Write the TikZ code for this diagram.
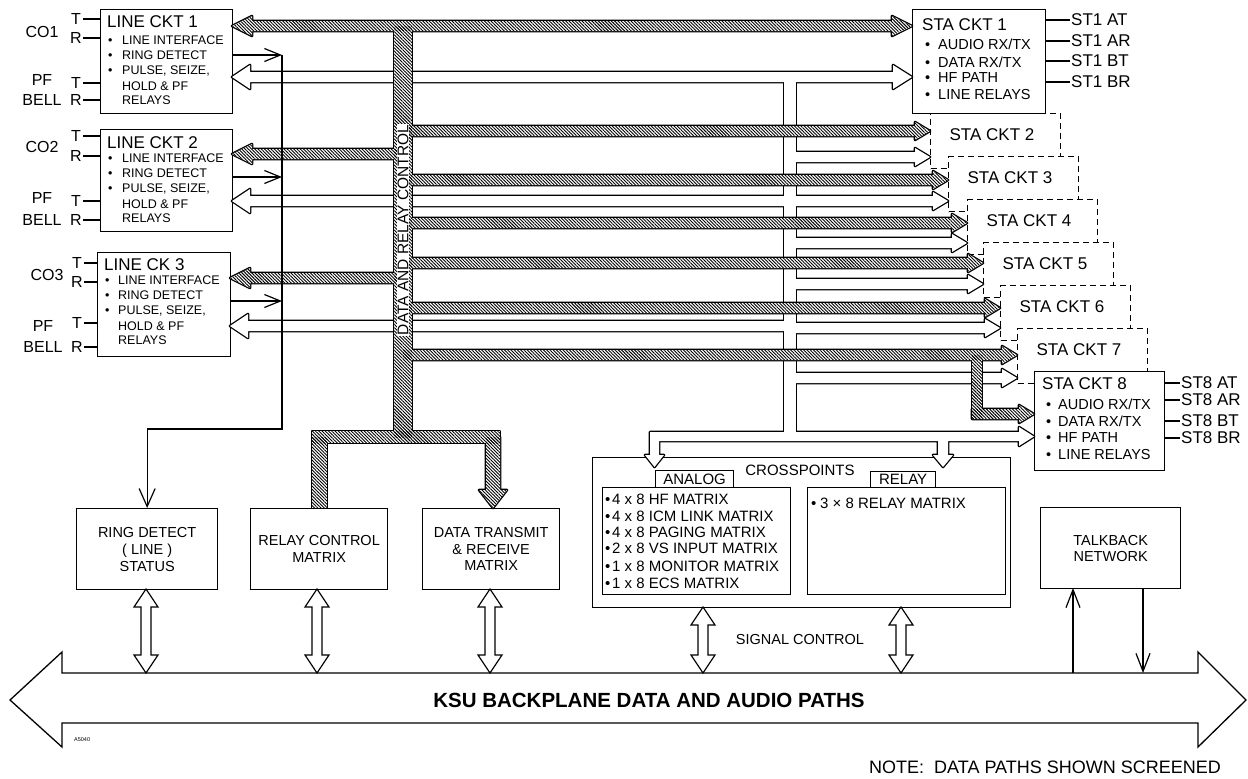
\documentclass[tikz,border=0pt]{standalone}
\usepackage{fontspec}
\setmainfont{Liberation Sans}
\usetikzlibrary{arrows.meta,patterns.meta}

\newcommand{\dotb}[1]{\makebox[#1][l]{\textbullet}}

% hollow (audio) paths, drawn twice: outline pass, then white pass
\newcommand{\hollownet}[1]{%
  \path[#1] (250,72) -- (893,72) -- (893,65) -- (912,77) -- (893,89) -- (893,82) -- (250,82) -- (250,89) -- (232,77) -- (250,65) -- cycle;
  \path[#1] (784,77) rectangle (796,437);
  \path[#1] (250,196) -- (790,196) -- (790,206) -- (250,206) -- (250,213) -- (232,201) -- (250,189) -- cycle;
  \path[#1] (248,321) -- (790,321) -- (790,331) -- (248,331) -- (248,338) -- (230,326) -- (248,314) -- cycle;
  \foreach \yy/\xt in {157/930,201/948,243/967,284/983,328/1000,378/1017}
    \path[#1] (790,\yy-5) -- (\xt-15,\yy-5) -- (\xt-15,\yy-9) -- (\xt,\yy) -- (\xt-15,\yy+9) -- (\xt-15,\yy+5) -- (790,\yy+5) -- cycle;
  \path[#1] (650,432) -- (1019,432) -- (1019,427) -- (1034,436.5) -- (1019,446) -- (1019,441) -- (948,441) -- (948,455) -- (953,455) -- (943,467) -- (933,455) -- (938,455) -- (938,441) -- (659,441) -- (659,455) -- (664,455) -- (654.5,467) -- (645,455) -- (650,455) -- cycle;
}

% screened (data) paths: outline pass, white pass, hatch pass
\newcommand{\hatchnet}[1]{%
  \path[#1] (252,21) -- (892,21) -- (892,16) -- (912,26) -- (892,36) -- (892,31) -- (252,31) -- (252,36) -- (232,26) -- (252,16) -- cycle;
  \path[#1] (394,26) rectangle (412,437);
  \path[#1] (403,149) -- (252,149) -- (252,144) -- (232,154) -- (252,164) -- (252,159) -- (403,159) -- cycle;
  \path[#1] (403,273) -- (250,273) -- (250,268) -- (230,278) -- (250,288) -- (250,283) -- (403,283) -- cycle;
  \foreach \yy/\xt in {131/930,180/948,223/967,263/983,308/1000,355/1017}
    \path[#1] (403,\yy-5) -- (\xt-15,\yy-5) -- (\xt-15,\yy-9) -- (\xt,\yy) -- (\xt-15,\yy+9) -- (\xt-15,\yy+5) -- (403,\yy+5) -- cycle;
  \path[#1] (972,355) rectangle (982,419);
  \path[#1] (972,409) -- (1019,409) -- (1019,405) -- (1034,414) -- (1019,423) -- (1019,419) -- (972,419) -- cycle;
  \path[#1] (312,431) rectangle (500,443);
  \path[#1] (312,437) rectangle (327,508);
  \path[#1] (486,437) -- (486,490) -- (479,490) -- (493,508) -- (507,490) -- (500,490) -- (500,437) -- cycle;
}

% double headed hollow arrow: x, top tip, bottom tip
\newcommand{\dblarrow}[3]{%
  \draw[line width=1.2pt, fill=white] (#1,#2) -- (#1+12,#2+18) -- (#1+5,#2+18) -- (#1+5,#3-18) -- (#1+12,#3-18) -- (#1,#3) -- (#1-12,#3-18) -- (#1-5,#3-18) -- (#1-5,#2+18) -- (#1-12,#2+18) -- cycle;
}

\tikzset{
  box/.style={draw, line width=1.3pt, fill=white, inner sep=0pt, anchor=north west},
  card/.style={box, dash pattern=on 6pt off 4pt, minimum width=130pt, minimum height=55pt},
  lbl/.style={inner sep=0pt, anchor=west, font=\fontsize{12.5}{14}\selectfont},
  stl/.style={inner sep=0pt, anchor=west, font=\fontsize{14.5}{16}\selectfont},
  xl/.style={inner sep=0pt, anchor=west, font=\fontsize{15}{17}\selectfont},
  ttl/.style={inner sep=0pt, anchor=west, font=\fontsize{17}{19}\selectfont},
  pin/.style={inner sep=0pt, font=\fontsize{16}{18}\selectfont},
  wire/.style={line width=1.2pt},
  barb/.style={wire, -{Straight Barb[length=16pt,width=13pt]}},
  screened/.style={pattern={Lines[angle=-45,distance=2.3pt,line width=0.9pt]}},
}

\begin{document}
\begin{tikzpicture}[x=1pt,y=-1pt]
  \fill[white] (0,0) rectangle (1248,779);
  \useasboundingbox (0,0) rectangle (1248,779);

  % Line circuits
  \node[box, minimum width=132pt, minimum height=104pt] (line1) at (100,9) {};
  \node[box, minimum width=132pt, minimum height=102pt] (line2) at (100,129) {};
  \node[box, minimum width=133pt, minimum height=104pt] (line3) at (97,252) {};

  \node[ttl] at (107,22) {LINE CKT 1};
  \node[lbl] at (108,40) {\dotb{14pt}LINE INTERFACE};
  \node[lbl] at (108,55) {\dotb{14pt}RING DETECT};
  \node[lbl] at (108,71) {\dotb{14pt}PULSE, SEIZE,};
  \node[lbl] at (122,86) {HOLD \& PF};
  \node[lbl] at (122,100) {RELAYS};

  \node[ttl] at (107,143) {LINE CKT 2};
  \node[lbl] at (108,158) {\dotb{14pt}LINE INTERFACE};
  \node[lbl] at (108,173) {\dotb{14pt}RING DETECT};
  \node[lbl] at (108,189) {\dotb{14pt}PULSE, SEIZE,};
  \node[lbl] at (122,204) {HOLD \& PF};
  \node[lbl] at (122,218) {RELAYS};

  \node[ttl] at (104,265) {LINE CK 3};
  \node[lbl] at (105,280) {\dotb{13pt}LINE INTERFACE};
  \node[lbl] at (105,295) {\dotb{13pt}RING DETECT};
  \node[lbl] at (105,311) {\dotb{13pt}PULSE, SEIZE,};
  \node[lbl] at (118,326) {HOLD \& PF};
  \node[lbl] at (118,340) {RELAYS};

  % CO and PF bell pairs
  \node[pin] at (42,32) {CO1};
  \node[pin] at (42,80) {PF};
  \node[pin] at (42,100) {BELL};
  \node[pin] at (42,147) {CO2};
  \node[pin] at (42,198) {PF};
  \node[pin] at (42,220) {BELL};
  \node[pin] at (47,275) {CO3};
  \node[pin] at (43,326) {PF};
  \node[pin] at (43,347) {BELL};
  \foreach \y/\l in {19/T,38/R,83/T,100/R,136/T,156/R,201/T,220/R} {
    \node[pin] at (76,\y) {\l};
    \draw[wire] (83,\y) -- (100,\y);
  }
  \foreach \y/\l in {263/T,282/R,323/T,347/R} {
    \node[pin] at (77,\y) {\l};
    \draw[wire] (84,\y) -- (97,\y);
  }

  % Station circuits
  \node[box, minimum width=133pt, minimum height=104pt] (sta1) at (912,9) {};
  \node[ttl] at (922,25) {STA CKT 1};
  \node[stl] at (925,44) {\dotb{13pt}AUDIO RX/TX};
  \node[stl] at (925,62) {\dotb{13pt}DATA RX/TX};
  \node[stl] at (925,78) {\dotb{13pt}HF PATH};
  \node[stl] at (925,95) {\dotb{13pt}LINE RELAYS};
  \foreach \y/\l in {20/AT,41/AR,61/BT,82/BR} {
    \draw[wire] (1045,\y) -- (1070,\y);
    \node[pin, anchor=west, font=\fontsize{17}{19}\selectfont] at (1071,\y) {ST1 \l};
  }

  \foreach \k/\x/\y in {2/930/113,3/948/156,4/967/199,5/983/242,6/1000/285,7/1017/328} {
    \node[card] (sta\k) at (\x,\y) {};
    \node[ttl, anchor=center] at (\x+62,\y+22) {STA CKT \k};
  }

  \node[box, minimum width=130pt, minimum height=99pt] (sta8) at (1034,371) {};
  \node[ttl] at (1042,384) {STA CKT 8};
  \node[stl] at (1046,404) {\dotb{12pt}AUDIO RX/TX};
  \node[stl] at (1046,421) {\dotb{12pt}DATA RX/TX};
  \node[stl] at (1046,438) {\dotb{12pt}HF PATH};
  \node[stl] at (1046,455) {\dotb{12pt}LINE RELAYS};
  \foreach \y/\l in {383/AT,400/AR,421/BT,438/BR} {
    \draw[wire] (1164,\y) -- (1180,\y);
    \node[pin, anchor=west, font=\fontsize{17}{19}\selectfont] at (1181,\y) {ST8 \l};
  }

  % Lower blocks
  \node[box, minimum width=141pt, minimum height=81pt, align=center, font=\fontsize{14.5}{17}\selectfont] (ring) at (76,508) {RING DETECT\\( LINE )\\STATUS};
  \node[box, minimum width=137pt, minimum height=81pt, align=center, font=\fontsize{14.5}{17}\selectfont] (relay) at (250,508) {RELAY CONTROL\\MATRIX};
  \node[box, minimum width=137pt, minimum height=81pt, align=center, font=\fontsize{14.5}{16.5}\selectfont] (dtx) at (422,508) {DATA TRANSMIT\\\& RECEIVE\\MATRIX};
  \node[box, minimum width=140pt, minimum height=81pt, align=center, font=\fontsize{14.5}{16}\selectfont] (talk) at (1040,507) {TALKBACK\\NETWORK};

  % Crosspoints
  \node[box, minimum width=418pt, minimum height=150pt] (xpt) at (592,457) {};
  \node[box, minimum width=188pt, minimum height=107pt] (analog) at (602,487) {};
  \node[box, minimum width=198pt, minimum height=107pt] (relaym) at (807,487) {};
  \node[box, minimum width=78pt, minimum height=17pt, font=\fontsize{15}{17}\selectfont] (antab) at (655,470) {ANALOG};
  \node[box, minimum width=65pt, minimum height=16pt, font=\fontsize{15}{17}\selectfont] (retab) at (870,471) {RELAY};
  \node[xl, anchor=center] at (800,470) {CROSSPOINTS};
  \foreach \y/\t in {499/4 x 8 HF MATRIX,516/4 x 8 ICM LINK MATRIX,532/4 x 8 PAGING MATRIX,548/2 x 8 VS INPUT MATRIX,566/1 x 8 MONITOR MATRIX,583/1 x 8 ECS MATRIX}
    \node[xl] at (605,\y) {\dotb{7pt}\t};
  \node[xl] at (811,503) {\dotb{9pt}3 × 8 RELAY MATRIX};
  \node[stl, anchor=center] at (800,640) {SIGNAL CONTROL};

  % Audio paths
  \hollownet{draw, line width=2.6pt, line join=round}
  \hollownet{fill=white}

  % Data paths
  \hatchnet{draw, line width=2.6pt, line join=round}
  \hatchnet{fill=white}
  \hatchnet{screened}
  \node[rotate=90, fill=white, inner sep=1pt, font=\fontsize{15.5}{17}\selectfont] (ctl) at (403,230) {DATA AND RELAY CONTROL};

  % Ring detect
  \coordinate (rdtop) at (282,55);
  \coordinate (rdbend) at (282,429);
  \coordinate (rdfoot) at (ring.north |- rdbend);
  \draw[barb] (line1.east |- rdtop) -- (rdtop);
  \draw[barb] (232,177) -- (282,177);
  \draw[barb] (230,301) -- (282,301);
  \draw[wire] (rdtop) -- (rdbend) -- (rdfoot);
  \draw[barb, -{Straight Barb[length=18pt,width=16pt]}] (rdfoot) -- (ring.north);

  % Backplane
  \draw[line width=1.3pt] (10,700) -- (62,652) -- (62,673) -- (1198,673) -- (1198,652) -- (1246,700) -- (1198,747) -- (1198,723) -- (62,723) -- (62,747) -- cycle;
  \node[font=\bfseries\fontsize{20.5}{23}\selectfont] (ksu) at (649,700) {KSU BACKPLANE DATA AND AUDIO PATHS};
  \node[font=\fontsize{5.5}{6}\selectfont, anchor=west, inner sep=0pt] (tag) at (74,740) {A5040};
  \node[font=\fontsize{18}{20}\selectfont] (note) at (1045,767) {NOTE:\ \ DATA PATHS SHOWN SCREENED};

  \dblarrow{146}{589}{673}
  \dblarrow{317}{589}{673}
  \dblarrow{490}{589}{673}
  \dblarrow{703}{607}{673}
  \dblarrow{901}{607}{673}

  % Talkback
  \draw[barb, -{Straight Barb[length=18pt,width=14pt]}] (1073,673) -- (1073,588);
  \draw[barb, -{Straight Barb[length=18pt,width=14pt]}] (1143,588) -- (1143,673);
\end{tikzpicture}
\end{document}
